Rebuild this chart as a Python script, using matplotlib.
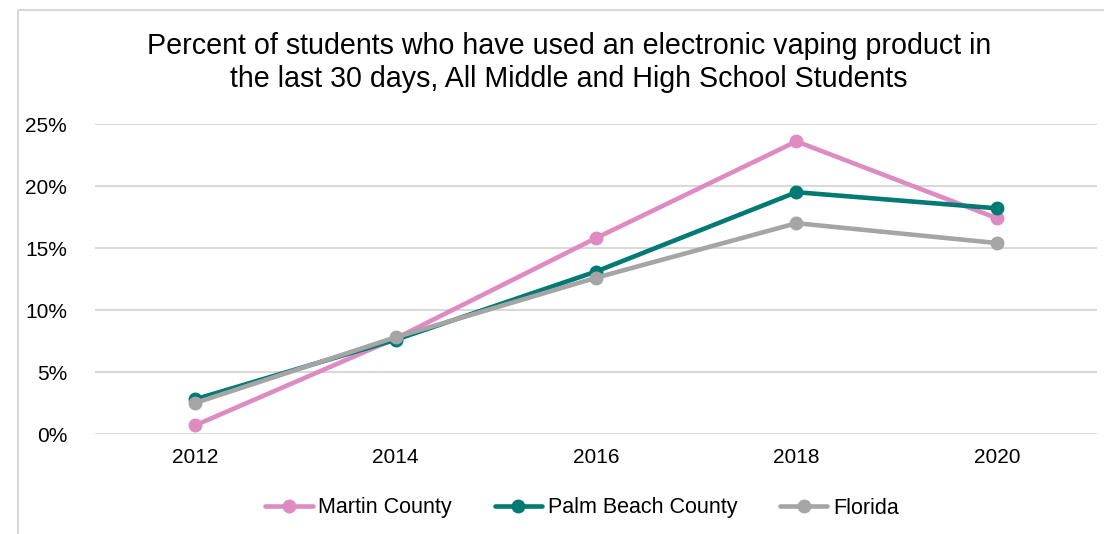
import matplotlib
matplotlib.use("Agg")
import matplotlib.pyplot as plt
from matplotlib.patches import Rectangle

years = ["2012", "2014", "2016", "2018", "2020"]
martin = [0.7, 7.7, 15.8, 23.6, 17.4]
palm_beach = [2.8, 7.6, 13.1, 19.5, 18.2]
florida = [2.5, 7.8, 12.6, 17.0, 15.4]
yticks = [0, 5, 10, 15, 20, 25]
ytick_labels = ["0%", "5%", "10%", "15%", "20%", "25%"]

plt.rcParams['font.family'] = ['Liberation Sans', 'DejaVu Sans']

fig = plt.figure(figsize=(11.04, 5.34), dpi=100)
fig.patches.append(Rectangle((18/1104, -0.1), 1.2, 1 - 10/534 + 0.1, transform=fig.transFigure,
                             fill=False, edgecolor='#d9d9d9', linewidth=1.5))
ax = fig.add_axes([95/1104, 1 - 434/534, (1097 - 95)/1104, (434 - 124)/534])

x = list(range(len(years)))
series = [(martin, "Martin County", "#de8bc2"),
          (palm_beach, "Palm Beach County", "#007a73"),
          (florida, "Florida", "#a5a5a5")]
for vals, label, color in series:
    ax.plot(x, vals, color=color, lw=3.3, marker='o', markersize=9, label=label,
            solid_capstyle='round', solid_joinstyle='round')

ax.set_xlim(-0.5, len(years) - 0.5)
ax.set_ylim(0, 25)
ax.set_yticks(yticks)
ax.set_yticklabels(ytick_labels)
ax.set_xticks(x)
ax.set_xticklabels(years)
ax.tick_params(axis='both', length=0, labelsize=15, colors='#000000')
ax.tick_params(axis='y', pad=20)
ax.tick_params(axis='x', pad=10)
for s in ax.spines.values():
    s.set_visible(False)
ax.grid(axis='y', color='#d9d9d9', lw=1.5)
ax.set_axisbelow(True)

fig.text(569/1104, 1 - 62.5/534,
         "Percent of students who have used an electronic vaping product in\nthe last 30 days, All Middle and High School Students",
         ha='center', va='center', fontsize=20.6, linespacing=1.23, color='#000000')

fig.legend(loc='center', bbox_to_anchor=(582/1104, 1 - 508/534), ncol=3, frameon=False,
           fontsize=15.5, handlelength=2.2, handletextpad=0.25, columnspacing=2.0)

fig.savefig("out.png", dpi=100, facecolor='white')
